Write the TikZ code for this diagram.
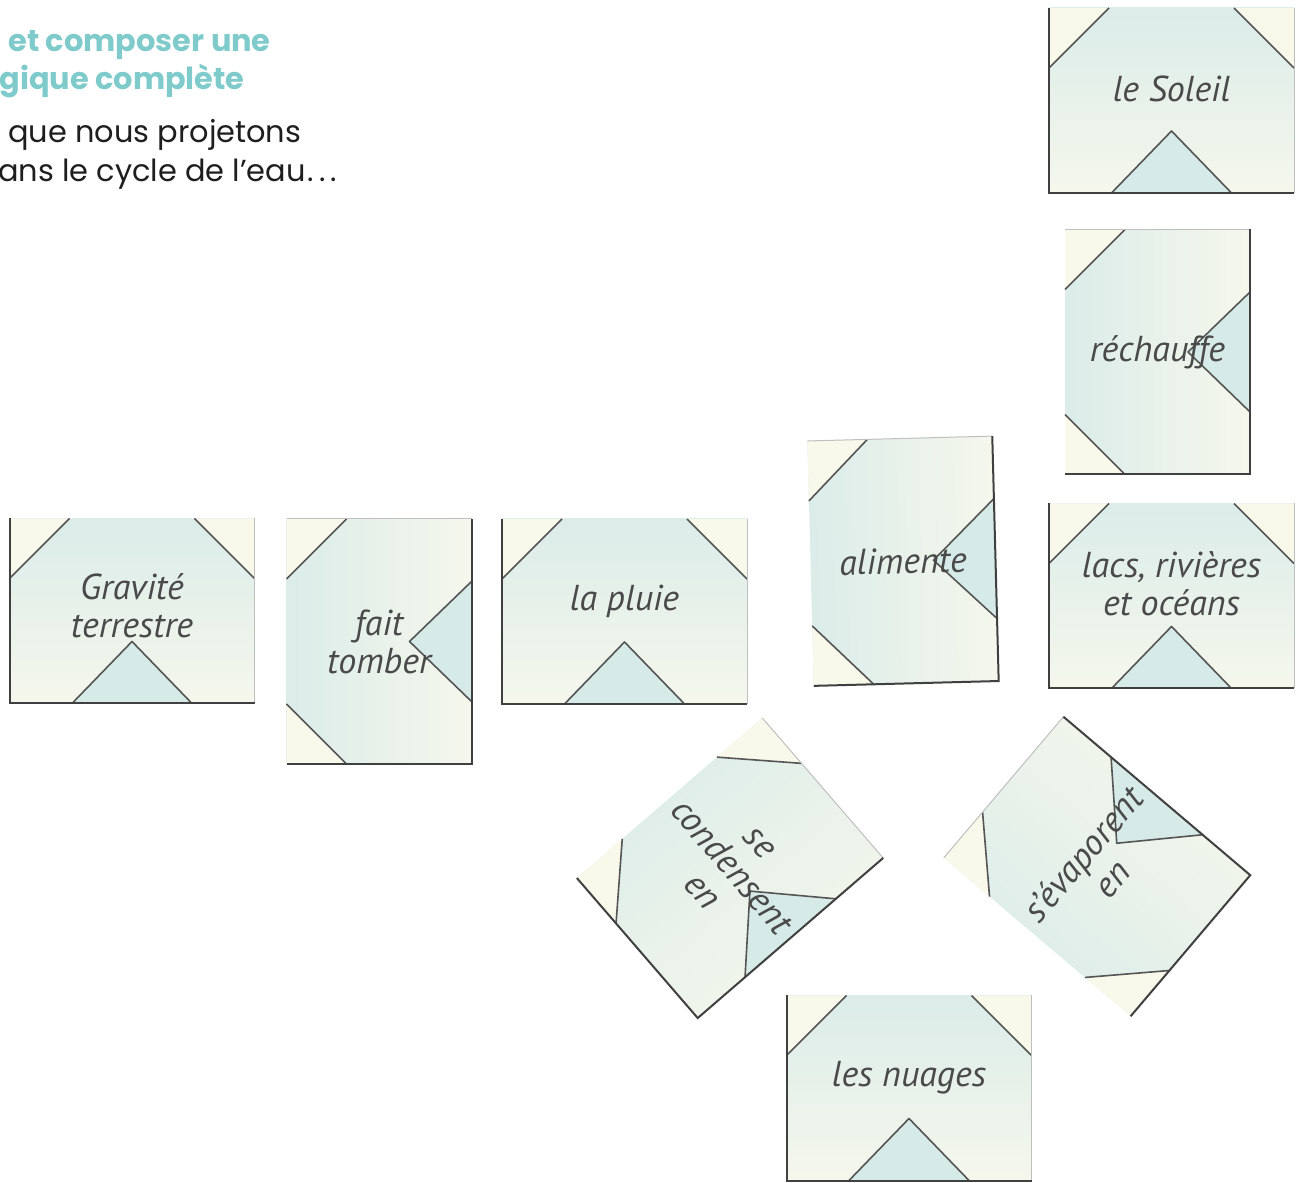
\documentclass[tikz,border=0pt]{standalone}
\usepackage{fontspec}
\usepackage{tikz}
\usetikzlibrary{positioning}
\setmainfont{PT Sans}
\newfontfamily\headfont{Poppins}
\definecolor{tealhead}{HTML}{7FCBCB}
\definecolor{inkbody}{HTML}{1E1E1E}
\definecolor{inkcard}{HTML}{4A4A4A}
\definecolor{tiletop}{HTML}{DBECE9}
\definecolor{tilebot}{HTML}{F5F7EC}
\definecolor{tilecream}{HTML}{F8F8EB}
\definecolor{tileblue}{HTML}{D6EAE8}
\definecolor{tileedge}{HTML}{555555}
\tikzset{
  head/.style={font=\headfont\bfseries\fontsize{15.2}{19}\selectfont, text=tealhead, anchor=base west, inner sep=0pt},
  lead/.style={font=\headfont\fontsize{15.2}{19}\selectfont, text=inkbody, anchor=base west, inner sep=0pt},
  word/.style={font=\itshape\fontsize{18}{19}\selectfont, text=inkcard, align=center, inner sep=0pt},
  cut/.style={draw=tileedge, line width=0.8pt, line join=round},
  pics/tile/.style={code={
    \shade[top color=tiletop, bottom color=tilebot, shading angle=#1] (-122.5,-92.5) rectangle (122.5,92.5);
    \fill[tilecream] (-122.5,32.5) -- (-62.5,92.5) -- (-122.5,92.5) -- cycle;
    \fill[tilecream] (122.5,32.5) -- (62.5,92.5) -- (122.5,92.5) -- cycle;
    \fill[tileblue] (-60,-92.5) -- (0,-30.5) -- (60,-92.5) -- cycle;
    \draw[cut] (-122.5,32.5) -- (-62.5,92.5);
    \draw[cut] (122.5,32.5) -- (62.5,92.5);
    \draw[cut] (-60,-92.5) -- (0,-30.5) -- (60,-92.5);
    \draw[black!25, line width=0.5pt] (122.5,92.5) -- (122.5,-92.5);
    \draw[black!75, line width=1pt] (-122.5,92.5) -- (-122.5,-92.5) -- (122.5,-92.5);
  }},
  pics/tile/.default=0,
}
\begin{document}
\begin{tikzpicture}[x=0.5pt, y=0.5pt]
  \useasboundingbox (0,0) rectangle (1304,1182);
  \node[head] (head1) at (8,1130) {et composer une};
  \node[head] (head2) at (-1,1092) {gique complète};
  \node[lead] (lead1) at (8,1039) {que nous projetons};
  \node[lead] (lead2) at (-2,1000) {ans le cycle de l’eau\kern1pt{.}\kern2.5pt{.}\kern2.5pt{.}};
  % noun cards
  \foreach \name/\x/\y/\dy/\lbl in {soleil/1171.5/1081.5/12/le Soleil, gravite/132/571/5/{Gravité\\terrestre},
      pluie/624.5/570.5/10/la pluie, lacs/1171.5/586/12/{lacs, rivières\\et océans}, nuages/909/94/10/les nuages} {
    \pic at (\x,\y) {tile};
    \node[word] (\name) at (\x,\y+\dy) {\lbl};
  }
  % verb cards
  \foreach \name/\x/\y/\a/\lbl in {rechauffe/1157.5/830/90/réchauffe, tomber/379/540.5/90/{fait\\tomber},
      alimente/903/621/91.5/alimente, condense/730/314/40.8/{se\\condensent\\en}, evapore/1097/315.5/139.7/{s’évaporent\\en}} {
    \pic[rotate=\a] at (\x,\y) {tile=\a};
    \node[word, rotate=\a-90] (\name) at (\x,\y) {\lbl};
  }
\end{tikzpicture}
\end{document}
